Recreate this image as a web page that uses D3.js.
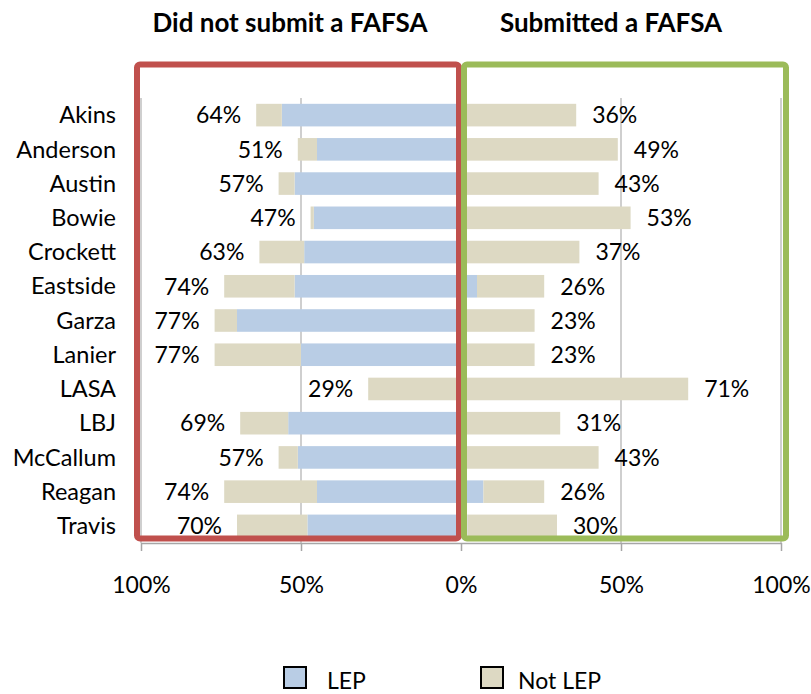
<!DOCTYPE html>
<html>
<head>
<meta charset="utf-8">
<script src="https://cdn.jsdelivr.net/npm/d3@7"></script>
<style>
  body { margin: 0; background: #fff; }
  svg { display: block; }
  text { font-family: Lato, "Open Sans", sans-serif; fill: #000; }
</style>
</head>
<body>
<svg id="chart" width="811" height="694"></svg>
<script>
// ---- data ----
const schools = ["Akins","Anderson","Austin","Bowie","Crockett","Eastside","Garza","Lanier","LASA","LBJ","McCallum","Reagan","Travis"];
// Did not submit a FAFSA
const noLEP    = [56, 45, 52, 46, 49, 52, 70, 50,  0, 54, 51, 45, 48];
const noNotLEP = [ 8,  6,  5,  1, 14, 22,  7, 27, 29, 15,  6, 29, 22];
const noLabels = [64, 51, 57, 47, 63, 74, 77, 77, 29, 69, 57, 74, 70];
// Submitted a FAFSA
const yesLEP    = [ 0,  0,  0,  0,  0,  5,  0,  0,  0,  0,  0,  7,  2];
const yesNotLEP = [36, 49, 43, 53, 37, 21, 23, 23, 71, 31, 43, 19, 28];
const yesLabels = [36, 49, 43, 53, 37, 26, 23, 23, 71, 31, 43, 26, 30];
const tickValues = [-100, -50, 0, 50, 100];
const titles = ["Did not submit a FAFSA", "Submitted a FAFSA"];
const seriesNames = ["LEP", "Not LEP"];
const colors = { "LEP": "#b9cde5", "Not LEP": "#ddd9c3" };

// ---- layout ----
const svg = d3.select("#chart");
const x = d3.scaleLinear().domain([-100, 100]).range([141, 781]);
const y = d3.scaleBand().domain(schools).range([98, 543]).paddingInner(0.34).paddingOuter(0.17);

// gridlines
svg.append("g").selectAll("line")
  .data(tickValues.filter(v => v !== 0))
  .join("line")
  .attr("x1", d => x(d)).attr("x2", d => x(d))
  .attr("y1", 98).attr("y2", 543)
  .attr("stroke", "#bfbfbf").attr("stroke-width", 1.5);

// bar segments
const segs = [];
schools.forEach((s, i) => {
  segs.push({ s, k: "LEP", x0: 0, x1: -noLEP[i] });
  segs.push({ s, k: "Not LEP", x0: -noLEP[i], x1: -(noLEP[i] + noNotLEP[i]) });
  segs.push({ s, k: "LEP", x0: 0, x1: yesLEP[i] });
  segs.push({ s, k: "Not LEP", x0: yesLEP[i], x1: yesLEP[i] + yesNotLEP[i] });
});
svg.append("g").selectAll("rect")
  .data(segs.filter(d => d.x0 !== d.x1))
  .join("rect")
  .attr("x", d => Math.min(x(d.x0), x(d.x1)))
  .attr("width", d => Math.abs(x(d.x1) - x(d.x0)))
  .attr("y", d => y(d.s))
  .attr("height", y.bandwidth())
  .attr("fill", d => colors[d.k]);

// value labels
const lab = svg.append("g").style("font-size", "23px");
lab.selectAll("text.no").data(schools).join("text").attr("class", "no")
  .attr("x", (d, i) => x(-(noLEP[i] + noNotLEP[i])) - 15)
  .attr("y", d => y(d) + y.bandwidth() / 2)
  .attr("dy", "0.36em")
  .attr("text-anchor", "end")
  .text((d, i) => noLabels[i] + "%");
lab.selectAll("text.yes").data(schools).join("text").attr("class", "yes")
  .attr("x", (d, i) => x(yesLEP[i] + yesNotLEP[i]) + 16)
  .attr("y", d => y(d) + y.bandwidth() / 2)
  .attr("dy", "0.36em")
  .attr("text-anchor", "start")
  .text((d, i) => yesLabels[i] + "%");

// category labels
svg.append("g").style("font-size", "23.5px").selectAll("text")
  .data(schools).join("text")
  .attr("x", 116)
  .attr("y", d => y(d) + y.bandwidth() / 2)
  .attr("dy", "0.35em")
  .attr("text-anchor", "end")
  .text(d => d);

// bottom axis
const axis = d3.axisBottom(x).tickValues(tickValues).tickSize(8).tickSizeOuter(0)
  .tickFormat(d => Math.abs(d) + "%");
const ag = svg.append("g").attr("transform", "translate(0,543)").call(axis);
ag.select(".domain").attr("stroke", "#a6a6a6").attr("stroke-width", 1.5);
ag.selectAll(".tick line").attr("stroke", "#a6a6a6").attr("stroke-width", 1.5);
ag.selectAll(".tick text").attr("y", 34).attr("dy", "0.71em")
  .style("font-size", "23px").style("font-family", "Lato, sans-serif").attr("fill", "#000");

// section boxes
svg.append("rect").attr("x", 137).attr("y", 64.5).attr("width", 322).attr("height", 474)
  .attr("rx", 3).attr("fill", "none").attr("stroke", "#c0504d").attr("stroke-width", 6);
svg.append("rect").attr("x", x(0) + 3).attr("y", 64.5).attr("width", 322).attr("height", 474)
  .attr("rx", 3).attr("fill", "none").attr("stroke", "#9bbb59").attr("stroke-width", 6);

// titles
svg.append("g").style("font-size", "26px").style("font-weight", "bold")
  .selectAll("text").data(titles).join("text")
  .attr("x", (d, i) => i === 0 ? 290 : 611)
  .attr("y", 31.5)
  .attr("text-anchor", "middle")
  .text(d => d);

// legend
const lg = svg.append("g").selectAll("g").data(seriesNames).join("g")
  .attr("transform", (d, i) => `translate(${i === 0 ? 284 : 481},667)`);
lg.append("rect").attr("width", 22).attr("height", 21)
  .attr("fill", d => colors[d]).attr("stroke", "#000").attr("stroke-width", 2);
lg.append("text").attr("x", (d, i) => i === 0 ? 43 : 37).attr("y", 22)
  .style("font-size", "23px").text(d => d);
</script>
</body>
</html>
